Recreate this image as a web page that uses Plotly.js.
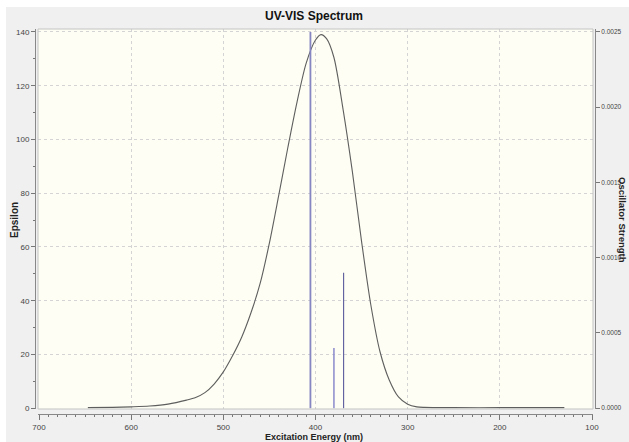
<!DOCTYPE html>
<html>
<head>
<meta charset="utf-8">
<script src="https://cdn.plot.ly/plotly-3.0.1.min.js"></script>
<style>html,body{margin:0;padding:0;background:#fff;}#chart{width:629px;height:442px;}</style>
</head>
<body>
<div id="chart"></div>
<script>
// Spectrum curve (wavelength nm, epsilon)
const curveNm = [647, 620, 600, 580, 560, 540, 530, 520, 510, 500, 490, 480, 470, 460, 450, 440, 430, 420, 410, 400, 394, 388, 380, 370, 360, 350, 340, 330, 320, 310, 300, 290, 282, 250, 200, 130];
const curveEps = [0.2, 0.3, 0.5, 0.8, 1.5, 3.0, 4.0, 5.8, 9.0, 13.5, 19.5, 26.5, 35.5, 46.5, 61.5, 79, 97, 114, 128.5, 137, 139, 137.5, 130.5, 111, 88, 62, 38.5, 21, 10.5, 4.2, 1.5, 0.5, 0.3, 0.2, 0.2, 0.2];
// Stick transitions (wavelength nm, oscillator strength)
const stickNm = [405.5, 380, 369.5];
const stickF = [0.0025, 0.0004, 0.0009];
// Tick labels
const xTicks = [700, 600, 500, 400, 300, 200, 100];
const yTicks = [0, 20, 40, 60, 80, 100, 120, 140];
const y2Ticks = [0, 0.0005, 0.0010, 0.0015, 0.0020, 0.0025];

const stickColors = ['#8686c2', '#8a8acc', '#5a5a9c'];
const stickWidths = [1.8, 1.5, 1.1];

const FONT = 'Liberation Sans Narrow, Liberation Sans, Arial, sans-serif';

const traces = [{
  x: curveNm, y: curveEps, type: 'scatter', mode: 'lines',
  line: {color: '#5e5e5e', width: 1.1, shape: 'spline', smoothing: 0.8},
  xaxis: 'x', yaxis: 'y', hoverinfo: 'skip'
}];
stickNm.forEach((nm, i) => {
  traces.push({
    x: [nm, nm], y: [0, stickF[i]], type: 'scatter', mode: 'lines',
    line: {color: stickColors[i], width: stickWidths[i]},
    xaxis: 'x', yaxis: 'y2', hoverinfo: 'skip'
  });
});

// pixel helpers (paper area: x 35..595, y 29..414)
const L = 35, R = 34, T = 29, B = 28;
const PW = 629 - L - R, PH = 442 - T - B;
const px = v => (v - L) / PW;
const py = v => (442 - B - v) / PH;

const yLo = -0.3, yHi = 141.1;
const layout = {
  width: 629, height: 442,
  margin: {l: L, r: R, t: T, b: B, pad: 0},
  paper_bgcolor: '#f0f0f0',
  plot_bgcolor: '#fefef4',
  showlegend: false,
  font: {family: FONT, size: 8, color: '#444'},
  xaxis: {
    domain: [px(38), px(593)],
    range: [700 + 1 / 0.92, 100 - 1 / 0.92],
    anchor: 'free', position: 0,
    tickmode: 'array', tickvals: xTicks, ticktext: xTicks.map(String),
    ticks: 'outside', ticklen: 5, tickcolor: '#777', tickwidth: 1,
    minor: {dtick: 10, tick0: 100, ticks: 'outside', ticklen: 2, tickcolor: '#777', showgrid: false},
    showline: true, linecolor: '#888', linewidth: 1,
    showgrid: true, gridcolor: '#d4d4d4', griddash: 'dot', gridwidth: 1,
    zeroline: false,
    tickfont: {family: FONT, size: 8, color: '#444'}
  },
  yaxis: {
    domain: [py(409), 1],
    range: [yLo, yHi],
    anchor: 'free', position: 0,
    tickmode: 'array', tickvals: yTicks, ticktext: yTicks.map(String),
    ticks: 'outside', ticklen: 4, tickcolor: '#777',
    minor: {dtick: 10, tick0: 0, ticks: 'outside', ticklen: 2, tickcolor: '#777', showgrid: false},
    showline: true, linecolor: '#888', linewidth: 1,
    showgrid: true, gridcolor: '#d4d4d4', griddash: 'dot', gridwidth: 1,
    zeroline: false,
    tickfont: {family: FONT, size: 8, color: '#444'}
  },
  yaxis2: {
    overlaying: 'y', side: 'right',
    anchor: 'free', position: 1,
    range: [yLo * 0.0025 / 140, yHi * 0.0025 / 140],
    tickmode: 'array', tickvals: y2Ticks, ticktext: y2Ticks.map(v => v.toFixed(4)),
    ticks: 'outside', ticklen: 4, tickcolor: '#777',
    showline: true, linecolor: '#888', linewidth: 1,
    showgrid: false, zeroline: false,
    tickfont: {family: FONT, size: 6.5, color: '#444'}
  },
  shapes: [
    {type: 'rect', xref: 'paper', yref: 'paper', x0: px(38), x1: px(593), y0: py(409), y1: py(29),
      line: {color: '#c4c4c4', width: 1}, fillcolor: 'rgba(0,0,0,0)', layer: 'above'},
    {type: 'rect', xref: 'paper', yref: 'paper', x0: px(0), x1: px(629), y0: py(7), y1: py(0),
      line: {width: 0}, fillcolor: '#ffffff', layer: 'above'},
    {type: 'rect', xref: 'paper', yref: 'paper', x0: px(0), x1: px(6), y0: py(442), y1: py(0),
      line: {width: 0}, fillcolor: '#ffffff', layer: 'above'}
  ],
  annotations: [
    {text: '<b>UV-VIS Spectrum</b>', xref: 'paper', yref: 'paper', x: px(314), y: py(16),
      xanchor: 'center', yanchor: 'middle', showarrow: false,
      font: {family: FONT, size: 12, color: '#111'}},
    {text: '<b>Excitation Energy (nm)</b>', xref: 'paper', yref: 'paper', x: px(314), y: py(437),
      xanchor: 'center', yanchor: 'middle', showarrow: false,
      font: {family: FONT, size: 9, color: '#222'}},
    {text: '<b>Epsilon</b>', xref: 'paper', yref: 'paper', x: px(14), y: py(220),
      xanchor: 'center', yanchor: 'middle', textangle: -90, showarrow: false,
      font: {family: FONT, size: 10, color: '#222'}},
    {text: '<b>Oscillator Strength</b>', xref: 'paper', yref: 'paper', x: px(623), y: py(220),
      xanchor: 'center', yanchor: 'middle', textangle: 90, showarrow: false,
      font: {family: FONT, size: 9.5, color: '#222'}}
  ]
};

Plotly.newPlot('chart', traces, layout, {staticPlot: true, displayModeBar: false});
</script>
</body>
</html>
